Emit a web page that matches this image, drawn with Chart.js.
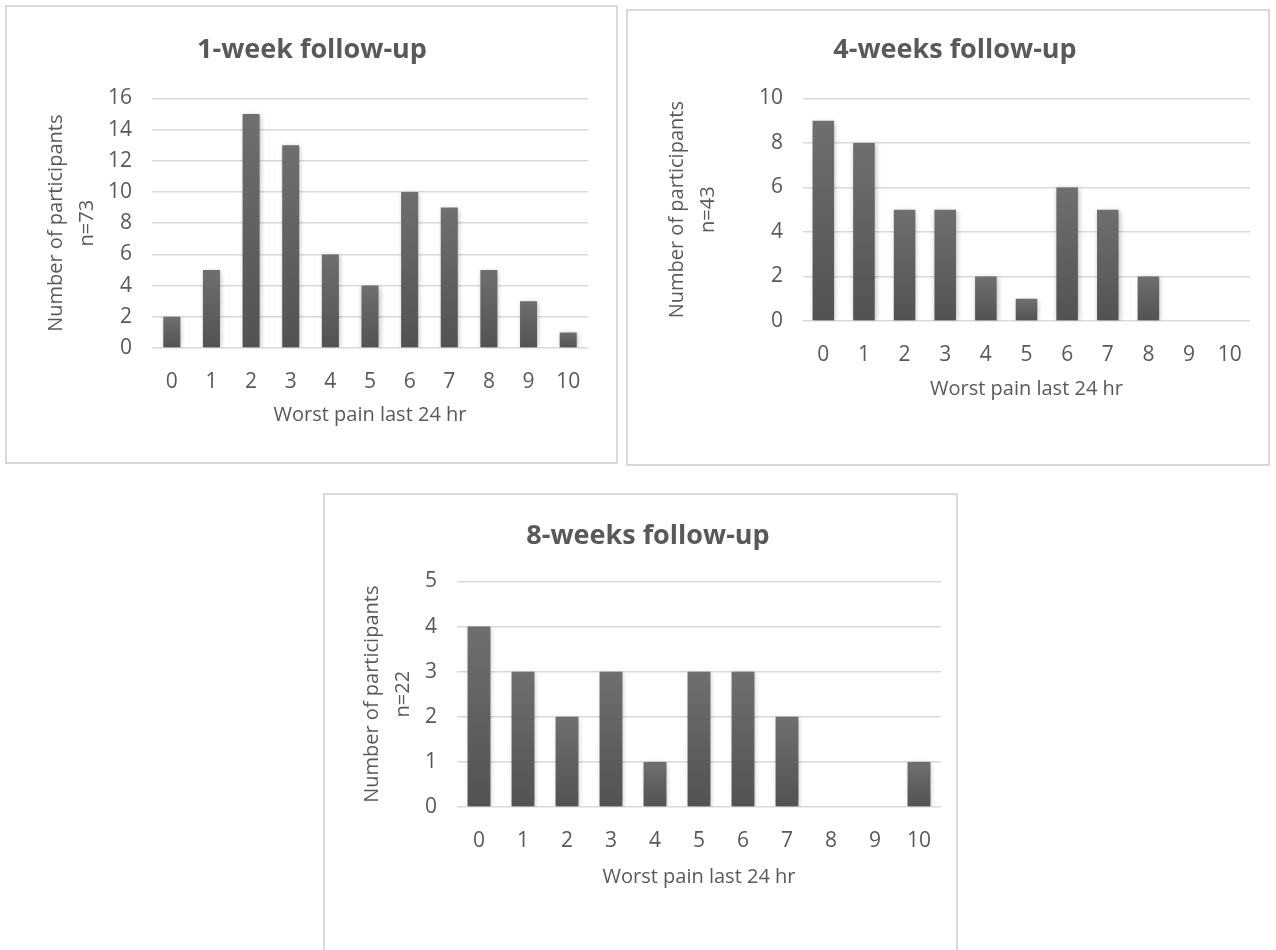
<!DOCTYPE html>
<html>
<head>
<meta charset="utf-8">
<title>Worst pain last 24 hr</title>
<script src="https://cdn.jsdelivr.net/npm/chart.js@4.4.0/dist/chart.umd.min.js"></script>
<style>
body { margin:0; background:#fff; width:1276px; height:950px; overflow:hidden; position:relative; }
.panel { position:absolute; border:2px solid #d9d9d9; box-sizing:border-box; background:#fff; }
.panel canvas { display:block; }
</style>
</head>
<body>
<div class="panel" style="left:5px;top:5px;width:613px;height:459px"><canvas id="week1"></canvas></div>
<div class="panel" style="left:626px;top:9px;width:644px;height:457px"><canvas id="week4"></canvas></div>
<div class="panel" style="left:323px;top:493px;width:635px;height:469px"><canvas id="week8"></canvas></div>
<script>
var painScores = ['0','1','2','3','4','5','6','7','8','9','10'];

var week1Counts = [2, 5, 15, 13, 6, 4, 10, 9, 5, 3, 1];
var week4Counts = [9, 8, 5, 5, 2, 1, 6, 5, 2, 0, 0];
var week8Counts = [4, 3, 2, 3, 1, 3, 3, 2, 0, 0, 1];

var week1Title = '1-week follow-up';
var week4Title = '4-weeks follow-up';
var week8Title = '8-weeks follow-up';

var yTitleLine = 'Number of participants';
var xTitle = 'Worst pain last 24 hr';

// y axis ticks: [max, step]
var week1Ticks = [16, 2];
var week4Ticks = [10, 2];
var week8Ticks = [5, 1];

const TEXT = '#595959';
const GRID = '#d9d9d9';

Chart.defaults.font.family = "'Open Sans', sans-serif";
Chart.defaults.color = TEXT;

// soft shadow like the excel bars
var barShadow = {
    id: 'barShadow',
    beforeDatasetsDraw(chart){
        var ctx = chart.ctx;
        ctx.save();
        ctx.shadowColor = 'rgba(0,0,0,0.28)';
        ctx.shadowBlur = 5;
        ctx.shadowOffsetX = 1;
        ctx.shadowOffsetY = 1;
    },
    afterDatasetsDraw(chart){
        chart.ctx.restore();
    }
};

function barGradient(context){ //lighter top, darker bottom on each bar
    var chart = context.chart;
    if(!chart.chartArea || context.parsed === undefined) return '#5f5f5f';
    var yScale = chart.scales.y;
    var top = yScale.getPixelForValue(context.parsed.y);
    var bottom = yScale.getPixelForValue(0);
    if(bottom - top < 1) return '#5f5f5f';
    var g = chart.ctx.createLinearGradient(0, top, 0, bottom);
    g.addColorStop(0, '#6f6f6f');
    g.addColorStop(1, '#525252');
    return g;
}

function makeChart(id, title, n, counts, ticks, box){
    var canvas = document.getElementById(id);
    var w = canvas.parentNode.clientWidth;
    var h = canvas.parentNode.clientHeight;
    canvas.width = w;
    canvas.height = h;
    canvas.style.width = w + 'px';
    canvas.style.height = h + 'px';

    return new Chart(canvas.getContext('2d'), {
        type: 'bar',
        data: {
            labels: painScores,
            datasets: [{
                data: counts,
                backgroundColor: barGradient,
                borderWidth: 0,
                categoryPercentage: 1,
                barPercentage: box.bar
            }]
        },
        plugins: [barShadow],
        options: {
            responsive: false,
            animation: false,
            layout: { padding: { left: box.padL, right: box.padR, top: 0, bottom: 0 } },
            plugins: {
                legend: { display: false },
                tooltip: { enabled: false },
                title: {
                    display: true,
                    text: title,
                    color: TEXT,
                    font: { size: 27, weight: 'bold', lineHeight: 1.2 },
                    padding: { top: box.titleTop, bottom: box.titleBottom }
                }
            },
            scales: {
                x: {
                    grid: { display: false },
                    border: { display: false },
                    ticks: { color: TEXT, font: { size: 21 }, padding: 13, maxRotation: 0 },
                    title: {
                        display: true,
                        text: xTitle,
                        color: TEXT,
                        font: { size: 20, lineHeight: 1.2 },
                        padding: { top: 0, bottom: box.xTitleBottom }
                    },
                    afterFit(scale){ scale.height = box.xHeight; }
                },
                y: {
                    min: 0,
                    max: ticks[0],
                    grid: { color: GRID, lineWidth: 1.5, drawTicks: false },
                    border: { display: false },
                    ticks: { stepSize: ticks[1], color: TEXT, font: { size: 21 }, padding: 20 },
                    title: {
                        display: true,
                        text: [yTitleLine, 'n=' + n],
                        color: TEXT,
                        font: { size: 20, lineHeight: 1.55 },
                        padding: { top: box.yTitlePad, bottom: 0 }
                    },
                    afterFit(scale){ scale.width = box.yWidth; }
                }
            }
        }
    });
}

makeChart('week1', week1Title, 73, week1Counts, week1Ticks,
    { padL: 29, padR: 28, yWidth: 116, yTitlePad: 5, titleTop: 27, titleBottom: 32, xHeight: 114, xTitleBottom: 35, bar: 0.43 });
makeChart('week4', week4Title, 43, week4Counts, week4Ticks,
    { padL: 32, padR: 18, yWidth: 143, yTitlePad: 2, titleTop: 23, titleBottom: 32, xHeight: 143, xTitleBottom: 63, bar: 0.53 });
makeChart('week8', week8Title, 22, week8Counts, week8Ticks,
    { padL: 30, padR: 15, yWidth: 102, yTitlePad: 2, titleTop: 25, titleBottom: 29, xHeight: 153, xTitleBottom: 71, bar: 0.52 });
</script>
</body>
</html>
